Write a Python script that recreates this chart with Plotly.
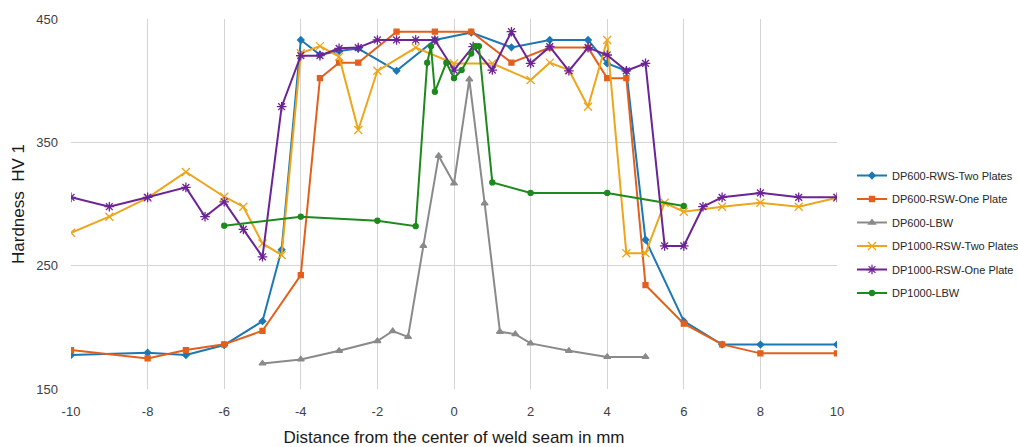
import plotly.graph_objects as go

# ---- data ----
blue_x = [-10, -8, -7, -6, -5, -4.5, -4, -3.5, -3, -2.5, -1.5, -0.5, 0.45, 1.5, 2.5, 3.5, 4, 4.5, 5, 6, 7, 8, 10]
blue_y = [177.5, 179.4, 177.5, 185.6, 205, 263, 433, 421, 424, 426, 408, 433, 439, 427, 433, 433, 414, 408, 271, 205, 186, 186, 186]

orange_x = [-10, -8, -7, -6, -5, -4, -3.5, -3, -2.5, -1.5, -0.5, 0.45, 1.5, 2.5, 3.5, 4, 4.5, 5, 6, 7, 8, 10]
orange_y = [181.6, 174.8, 181.6, 186.2, 197.2, 242.4, 402, 414.6, 414.6, 439.7, 439.7, 439.7, 414.6, 426.8, 426.8, 402, 402, 234.3, 203, 186.2, 178.9, 178.9]

gray_x = [-5, -4, -3, -2, -1.6, -1.2, -0.8, -0.4, 0, 0.4, 0.8, 1.2, 1.6, 2, 3, 4, 5]
gray_y = [170.7, 174, 181, 188.9, 197, 192.3, 266, 339, 316.7, 401, 300.5, 196.4, 194.5, 187, 181, 176, 176]

yellow_x = [-10, -9, -8, -7, -6, -5.5, -5, -4.5, -4, -3.5, -3, -2.5, -2, -1, 0, 1, 2, 2.5, 3, 3.5, 4, 4.5, 5, 5.5, 6, 7, 8, 9, 10]
yellow_y = [276.7, 289.7, 305, 326, 305.9, 297.8, 268, 258.6, 422.2, 428, 419.4, 360, 408, 426.8, 414, 414, 400.5, 414.6, 408.6, 378.9, 433, 260, 260, 301, 293.7, 297.8, 301, 297.8, 305]

purple_x = [-10, -9, -8, -7, -6.5, -6, -5.5, -5, -4.5, -4, -3.5, -3, -2.5, -2, -1.5, -1, -0.5, 0, 0.5, 1, 1.5, 2, 2.5, 3, 3.5, 4, 4.5, 5, 5.5, 6, 6.5, 7, 8, 9, 10]
purple_y = [305.4, 297.8, 305.4, 313.5, 289.7, 301.8, 279.4, 257.2, 378.9, 420.3, 420.3, 426.2, 426.8, 433, 433, 433, 433, 408.6, 427.6, 408.6, 439.7, 414, 427.6, 408, 426.8, 420.8, 408, 414, 266, 266, 297.8, 305.4, 309, 305.4, 305.4]

green_x = [-6, -4, -2, -1, -0.7, -0.6, -0.5, -0.2, 0, 0.2, 0.45, 0.55, 0.65, 1, 2, 4, 6]
green_y = [282.4, 289.7, 286.4, 282, 414.6, 428, 391, 414.6, 402, 408.6, 422, 428, 428, 317.5, 309, 309, 298.4]

names = ["DP600-RWS-Two Plates", "DP600-RSW-One Plate", "DP600-LBW",
         "DP1000-RSW-Two Plates", "DP1000-RSW-One Plate", "DP1000-LBW"]
x_ticks = [-10, -8, -6, -4, -2, 0, 2, 4, 6, 8, 10]
y_ticks = [150, 250, 350, 450]

series = [
    (blue_x, blue_y, "#1b78b4", "diamond", 5),
    (orange_x, orange_y, "#e2601c", "square", 5),
    (gray_x, gray_y, "#8a8a8a", "triangle-up", 6),
    (yellow_x, yellow_y, "#eea51a", "x-thin", 8),
    (purple_x, purple_y, "#6b2396", "asterisk", 8),
    (green_x, green_y, "#1c8a1c", "circle", 5),
]

fig = go.Figure()
for i, (xs, ys, col, sym, sz) in enumerate(series):
    fig.add_trace(go.Scatter(
        x=xs, y=ys, name=names[i], mode="lines+markers",
        line=dict(color=col, width=2),
        marker=dict(symbol=sym, size=sz, color=col,
                    line=dict(color=col, width=1.3)),
        legendgroup=str(i),
    ))

fig.update_layout(
    width=1018, height=447,
    margin=dict(l=71, r=181, t=19, b=58, autoexpand=False),
    paper_bgcolor="white", plot_bgcolor="white",
    font=dict(family="Liberation Sans, Arial, sans-serif", color="#404040"),
    showlegend=True,
    legend=dict(
        xref="container", yref="container",
        x=852 / 1018, y=1 - 161 / 447, xanchor="left", yanchor="top",
        font=dict(size=11, color="#262626"),
        tracegroupgap=4.5, itemwidth=30, bgcolor="rgba(0,0,0,0)",
    ),
    xaxis=dict(
        range=[-10, 10], tickvals=x_ticks, ticktext=[str(t) for t in x_ticks],
        showgrid=True, gridcolor="#d4d4d4", gridwidth=1, zeroline=False,
        showline=False, ticks="", tickfont=dict(size=13, color="#404040"),
        ticklabelstandoff=13, automargin=False,
        title=dict(text="Distance from the center of weld seam in mm",
                   font=dict(size=17, color="#1a1a1a"), standoff=14),
    ),
    yaxis=dict(
        range=[150, 450], tickvals=y_ticks, ticktext=[str(t) for t in y_ticks],
        showgrid=True, gridcolor="#d4d4d4", gridwidth=1, zeroline=False,
        showline=False, ticks="", tickfont=dict(size=13, color="#404040"),
        ticklabelstandoff=12, automargin=False,
        title=dict(text="Hardness  HV 1", font=dict(size=17, color="#1a1a1a"),
                   standoff=7),
    ),
)

fig.write_html("out.html", config={"displayModeBar": False},
               post_script="document.body.style.margin='0';")
